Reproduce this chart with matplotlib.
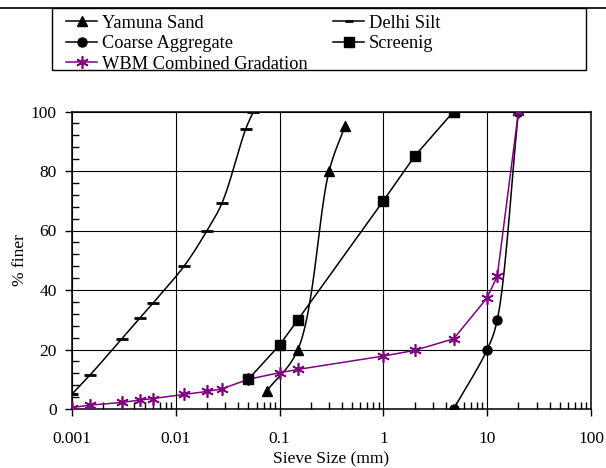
"""
Grain size distribution (sieve analysis) chart, log x axis.
"""

import numpy as np
import matplotlib
matplotlib.use("Agg")
import matplotlib.pyplot as plt
from matplotlib.lines import Line2D
from matplotlib.patches import Rectangle
from matplotlib.ticker import LogLocator, MultipleLocator, NullFormatter, FixedLocator

plt.rcParams["font.family"] = ["Liberation Serif", "DejaVu Serif"]

# --- data (sieve size in mm, % finer) ------------------------------------
yamuna_x = [0.075, 0.15, 0.3, 0.425]
yamuna_y = [6, 20, 80, 95]

silt_x = [0.001, 0.0015, 0.003, 0.0045, 0.006, 0.012, 0.02, 0.028, 0.047, 0.056]
silt_y = [5, 11.5, 23.5, 30.6, 35.5, 48, 60, 69.4, 94, 100]

coarse_x = [4.75, 10, 12.5, 20]
coarse_y = [0, 20, 30, 100]

screen_x = [0.05, 0.1, 0.15, 1, 2, 4.75]
screen_y = [10, 21.5, 30, 70, 85, 100]

wbm_x = [0.001, 0.0015, 0.003, 0.0045, 0.006, 0.012, 0.02, 0.028, 0.05,
         0.1, 0.15, 1, 2, 4.75, 10, 12.5, 20]
wbm_y = [0.5, 1.3, 2.2, 3.0, 3.5, 4.9, 5.9, 6.8, 10,
         12.2, 13.3, 17.8, 19.7, 23.6, 37.4, 44.7, 100]

PURPLE = "#800080"
STAR = (6, 2, 0)
W, H = 519, 297


def smooth(xs, ys, n=40, alpha=0.5):
    # centripetal Catmull-Rom, worked out in pixel space of the axes
    p = np.column_stack([(np.log10(xs) + 3) / 5 * W, np.asarray(ys, float) / 100 * H])
    p = np.vstack([2 * p[0] - p[1], p, 2 * p[-1] - p[-2]])
    out = []
    for i in range(1, len(p) - 2):
        P0, P1, P2, P3 = p[i - 1], p[i], p[i + 1], p[i + 2]
        t0 = 0.0
        t1 = t0 + np.linalg.norm(P1 - P0) ** alpha
        t2 = t1 + np.linalg.norm(P2 - P1) ** alpha
        t3 = t2 + np.linalg.norm(P3 - P2) ** alpha
        t = np.linspace(t1, t2, n)[:, None]
        A1 = (t1 - t) / (t1 - t0) * P0 + (t - t0) / (t1 - t0) * P1
        A2 = (t2 - t) / (t2 - t1) * P1 + (t - t1) / (t2 - t1) * P2
        A3 = (t3 - t) / (t3 - t2) * P2 + (t - t2) / (t3 - t2) * P3
        B1 = (t2 - t) / (t2 - t0) * A1 + (t - t0) / (t2 - t0) * A2
        B2 = (t3 - t) / (t3 - t1) * A2 + (t - t1) / (t3 - t1) * A3
        out.append((t2 - t) / (t2 - t1) * B1 + (t - t1) / (t2 - t1) * B2)
    c = np.vstack(out)
    return 10 ** (c[:, 0] / W * 5 - 3), c[:, 1] / H * 100


fig = plt.figure(figsize=(6.06, 4.68), dpi=100)
ax = fig.add_axes([72 / 606, 1 - 409 / 468, W / 606, 297.5 / 468])

# smoothed series
for xs, ys, mk, ms in [(yamuna_x, yamuna_y, "^", 7), (coarse_x, coarse_y, "o", 6.5),
                       (silt_x, silt_y, "_", 9)]:
    sx, sy = smooth(xs, ys)
    ax.plot(sx, sy, color="black", lw=1.1, zorder=3)
    ax.plot(xs, ys, ls="none", marker=mk, ms=ms, color="black",
            mew=2 if mk == "_" else 1, zorder=4)

ax.plot(wbm_x, wbm_y, color=PURPLE, lw=1.1, marker=STAR, ms=9, mew=1.2, zorder=5)
ax.plot(screen_x, screen_y, color="black", lw=1.1, marker="s", ms=7, zorder=6)

ax.set_xscale("log")
ax.set_xlim(0.001, 100)
ax.set_ylim(0, 100)
ax.xaxis.set_major_locator(FixedLocator([0.001, 0.01, 0.1, 1, 10, 100]))
ax.set_xticklabels(["0.001", "0.01", "0.1", "1", "10", "100"])
ax.xaxis.set_minor_locator(LogLocator(base=10, subs=np.arange(2, 10), numticks=20))
ax.xaxis.set_minor_formatter(NullFormatter())
ax.yaxis.set_major_locator(MultipleLocator(20))
ax.yaxis.set_minor_locator(MultipleLocator(4))

ax.grid(True, which="major", color="black", lw=0.8)
ax.set_axisbelow(True)
ax.tick_params(which="major", direction="out", length=5, width=1, labelsize=12.5)
ax.tick_params(axis="y", which="major", pad=6)
ax.tick_params(axis="x", which="major", pad=11)
ax.tick_params(which="minor", direction="in", length=5, width=1)
for s in ax.spines.values():
    s.set_linewidth(1.1)

ax.set_xlabel("Sieve Size (mm)", fontsize=12.5, labelpad=3)
ax.set_ylabel("% finer", fontsize=12.5, labelpad=2)

# legend: two single-column blocks, boxed by hand
h_left = [
    Line2D([], [], color="black", lw=1.1, marker="^", ms=7),
    Line2D([], [], color="black", lw=1.1, marker="o", ms=6.5),
    Line2D([], [], color=PURPLE, lw=1.1, marker=STAR, ms=9, mew=1.2),
]
h_right = [
    Line2D([], [], color="black", lw=1.1, marker="_", ms=6, mew=2),
    Line2D([], [], color="black", lw=1.1, marker="s", ms=7),
]
lab_left = ["Yamuna Sand", "Coarse Aggregate", "WBM Combined Gradation"]
lab_right = ["Delhi Silt", "Screenig"]
leg_kw = dict(loc="upper left", frameon=False, fontsize=13.2, handlelength=1.7,
              handletextpad=0.25, labelspacing=0.2, borderpad=0, borderaxespad=0)
fig.legend(h_left, lab_left, bbox_to_anchor=(66 / 606, 1 - 14.5 / 468), **leg_kw)
fig.legend(h_right, lab_right, bbox_to_anchor=(333 / 606, 1 - 14.5 / 468), **leg_kw)
fig.add_artist(Rectangle((52 / 606, 1 - 70 / 468), 534 / 606, 62.5 / 468,
                         transform=fig.transFigure, fill=False, ec="black", lw=1))
fig.add_artist(Line2D([0, 1], [1 - 7.5 / 468, 1 - 7.5 / 468], transform=fig.transFigure,
                      color="black", lw=1.2))

fig.savefig("out.png", dpi=100)
